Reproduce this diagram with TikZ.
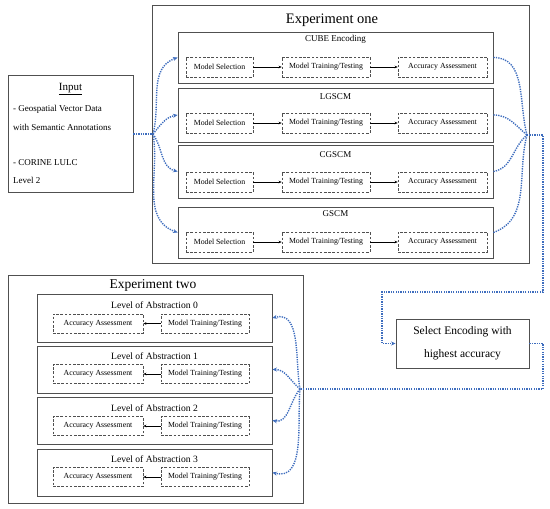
\documentclass[tikz,border=0pt]{standalone}
\usepackage{fontspec}
\setmainfont{Liberation Serif}
\usetikzlibrary{arrows.meta}
\definecolor{conblue}{HTML}{3E6DBE}
\definecolor{boxgray}{HTML}{505050}
\tikzset{
  box/.style={draw=boxgray, line width=0.9pt, inner sep=0pt},
  dbox/.style={draw=boxgray, line width=0.7pt, dash pattern=on 2.6pt off 1.6pt, inner sep=0pt, minimum height=20pt, font=\fontsize{7.8}{9}\selectfont},
  lbl/.style={inner sep=0pt, font=\fontsize{9}{10}\selectfont},
  lvl/.style={inner sep=0pt, font=\fontsize{9.6}{11}\selectfont},
  ttl/.style={inner sep=0pt},
  itxt/.style={inner sep=0pt, anchor=west, font=\fontsize{9}{10}\selectfont},
  flow/.style={black, line width=0.5pt, -{Stealth[length=3pt,width=2.6pt]}},
  con/.style={conblue, line width=1.4pt, dash pattern=on 1.3pt off 1.1pt},
  conarrow/.style={con, -{Stealth[length=4.5pt,width=4pt]}}
}
\begin{document}
\begin{tikzpicture}[x=1pt,y=-1pt]
\useasboundingbox (0,0) rectangle (550,509);

% ---------- Input ----------
\node[box, minimum width=125pt, minimum height=117pt] (input) at (70.5,133.5) {};
\node[ttl, font=\fontsize{11}{12}\selectfont] (intitle) at (70.5,89) {\underline{Input}};
\node[itxt] (in1) at (13,109) {- Geospatial Vector Data};
\node[itxt] (in2) at (13,127) {with Semantic Annotations};
\node[itxt] (in3) at (13,163) {- CORINE LULC};
\node[itxt] (in4) at (13,180) {Level 2};

% ---------- Experiment one ----------
\node[box, minimum width=377pt, minimum height=258pt] (exone) at (340.5,134) {};
\node[ttl, font=\fontsize{14.5}{16}\selectfont] (exonetitle) at (332,20) {Experiment one};

\node[box, minimum width=315pt, minimum height=51pt] (s1) at (335.5,57.5) {};
\node[box, minimum width=315pt, minimum height=54pt] (s2) at (335.5,115) {};
\node[box, minimum width=315pt, minimum height=53pt] (s3) at (335.5,171.5) {};
\node[box, minimum width=315pt, minimum height=51pt] (s4) at (335.5,232.5) {};

\node[lbl] (s1l) at (335.5,39) {CUBE Encoding};
\node[lbl] (s2l) at (335.5,97) {LGSCM};
\node[lbl] (s3l) at (335.5,155) {CGSCM};
\node[lbl] (s4l) at (335.5,214) {GSCM};

\foreach \i/\y in {1/67,2/123,3/182,4/242}{
  \node[dbox, minimum width=67pt] (ms\i) at (219.5,\y) {Model Selection};
  \node[dbox, minimum width=88pt] (mt\i) at (326,\y) {Model Training/Testing};
  \node[dbox, minimum width=89pt] (aa\i) at (442.5,\y) {Accuracy Assessment};
  \draw[flow] (ms\i) -- (mt\i);
  \draw[flow] (mt\i) -- (aa\i);
}

% ---------- Experiment two ----------
\node[box, minimum width=295pt, minimum height=228pt] (extwo) at (155.5,389) {};
\node[ttl, font=\fontsize{13.5}{15}\selectfont] (extwotitle) at (153,285) {Experiment two};

\node[box, minimum width=235pt, minimum height=48pt] (l0) at (154.5,318) {};
\node[box, minimum width=235pt, minimum height=47pt] (l1) at (154.5,369.5) {};
\node[box, minimum width=235pt, minimum height=47pt] (l2) at (154.5,420.5) {};
\node[box, minimum width=235pt, minimum height=47pt] (l3) at (154.5,472.5) {};

\foreach \i/\ly/\dy in {0/305/323.5,1/356/374,2/408/426,3/459/477}{
  \node[lvl] (l\i l) at (154.5,\ly) {Level of Abstraction \i};
  \node[dbox, minimum width=90pt, minimum height=19pt] (la\i) at (98,\dy) {Accuracy Assessment};
  \node[dbox, minimum width=88pt, minimum height=19pt] (lm\i) at (205,\dy) {Model Training/Testing};
  \draw[flow] (lm\i) -- (la\i);
}

% ---------- Select ----------
\node[box, minimum width=133pt, minimum height=49pt, align=center, font=\fontsize{11.5}{23}\selectfont] (sel) at (462.5,343.5) {Select Encoding with\\highest accuracy};

% ---------- Connectors ----------
\coordinate (j1) at (153,134);
\coordinate (j2) at (527,135);
\coordinate (j3) at (300,389);
\coordinate (c1) at (543,292);
\coordinate (c2) at (382,292);
\coordinate (c3) at (543,389);

\draw[con] (input.east |- j1) -- (j1);
\draw[conarrow] (j1) to[out=75,in=200] (s1.west);
\draw[conarrow] (j1) to[out=50,in=190] (s2.west);
\draw[conarrow] (j1) to[out=-55,in=165] (s3.west);
\draw[conarrow] (j1) to[out=-80,in=160] (s4.west);

\draw[con] (s1.east) to[out=0,in=105] (j2);
\draw[con] (s2.east) to[out=0,in=140] (j2);
\draw[con] (s3.east) to[out=10,in=-140] (j2);
\draw[con] (s4.east) to[out=20,in=-105] (j2);

\draw[conarrow] (j2) -| (c1) -- (c2) |- (sel.west);
\draw[con] (sel.east) -| (c3) -- (j3);

\draw[conarrow] (j3) to[out=100,in=15] (l0.east);
\draw[conarrow] (j3) to[out=140,in=0] (l1.east);
\draw[conarrow] (j3) to[out=-130,in=-10] (l2.east);
\draw[conarrow] (j3) to[out=-95,in=-15] (l3.east);
\end{tikzpicture}
\end{document}
